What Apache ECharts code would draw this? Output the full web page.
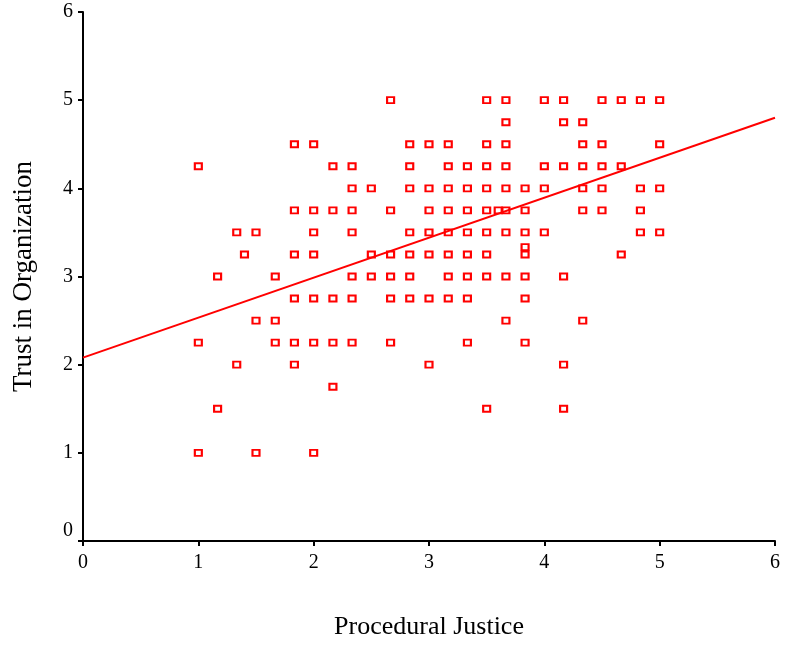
<!DOCTYPE html>
<html>
<head>
<meta charset="utf-8">
<script src="https://cdn.jsdelivr.net/npm/echarts@6/dist/echarts.min.js"></script>
<style>
  html, body { margin: 0; padding: 0; background: #fff; }
  #chart { width: 787px; height: 648px; }
</style>
</head>
<body>
<div id="chart"></div>
<script>
// scatter points grouped by y value (Trust in Organization), x = Procedural Justice
const rows = {
  '5':    [2.667, 3.5, 3.667, 4, 4.167, 4.5, 4.667, 4.833, 5],
  '4.75': [3.667, 4.167, 4.333],
  '4.5':  [1.833, 2, 2.833, 3, 3.167, 3.5, 3.667, 4.333, 4.5, 5],
  '4.25': [1, 2.167, 2.333, 2.833, 3.167, 3.333, 3.5, 3.667, 4, 4.167, 4.333, 4.5, 4.667],
  '4':    [2.333, 2.5, 2.833, 3, 3.167, 3.333, 3.5, 3.667, 3.833, 4, 4.333, 4.5, 4.833, 5],
  '3.75': [1.833, 2, 2.167, 2.333, 2.667, 3, 3.167, 3.333, 3.5, 3.6, 3.667, 3.833, 4.333, 4.5, 4.833],
  '3.5':  [1.333, 1.5, 2, 2.333, 2.833, 3, 3.167, 3.333, 3.5, 3.667, 3.833, 4, 4.833, 5],
  '3.333':[3.833],
  '3.25': [1.4, 1.833, 2, 2.5, 2.667, 2.833, 3, 3.167, 3.333, 3.5, 3.833, 4.667],
  '3':    [1.167, 1.667, 2.333, 2.5, 2.667, 2.833, 3.167, 3.333, 3.5, 3.667, 3.833, 4.167],
  '2.75': [1.833, 2, 2.167, 2.333, 2.667, 2.833, 3, 3.167, 3.333, 3.833],
  '2.5':  [1.5, 1.667, 3.667, 4.333],
  '2.25': [1, 1.667, 1.833, 2, 2.167, 2.333, 2.667, 3.333, 3.833],
  '2':    [1.333, 1.833, 3, 4.167],
  '1.75': [2.167],
  '1.5':  [1.167, 3.5, 4.167],
  '1':    [1, 1.5, 2]
};

// fitted regression line end points
const fitX = [0, 6];
const fitY = [2.08, 4.8];

const xTicks = [0, 1, 2, 3, 4, 5, 6];
const yTicks = [0, 1, 2, 3, 4, 5, 6];

const points = [];
Object.keys(rows).forEach(function (y) {
  rows[y].forEach(function (x) { points.push([x, Number(y)]); });
});

const font = 'Liberation Serif';
const chart = echarts.init(document.getElementById('chart'));

chart.setOption({
  animation: false,
  grid: { left: 83, right: 12, top: 12, bottom: 107 },
  xAxis: {
    type: 'value',
    min: xTicks[0], max: xTicks[xTicks.length - 1], interval: 1,
    name: 'Procedural Justice',
    nameLocation: 'middle',
    nameGap: 73,
    nameTextStyle: { fontFamily: font, fontSize: 26, color: '#000' },
    axisLine: { show: true, lineStyle: { color: '#000', width: 2 } },
    axisTick: { show: true, length: 5, lineStyle: { color: '#000', width: 2 } },
    axisLabel: { fontFamily: font, fontSize: 20, color: '#000', margin: 12 },
    splitLine: { show: false }
  },
  yAxis: {
    type: 'value',
    min: yTicks[0], max: yTicks[yTicks.length - 1], interval: 1,
    name: 'Trust in Organization',
    nameLocation: 'middle',
    nameGap: 46,
    nameTextStyle: { fontFamily: font, fontSize: 27, color: '#000' },
    axisLine: { show: true, lineStyle: { color: '#000', width: 2 } },
    axisTick: { show: true, length: 5, lineStyle: { color: '#000', width: 2 } },
    axisLabel: {
      fontFamily: font, fontSize: 20, color: '#000', margin: 10,
      // the zero label sits a little above its tick in the original
      formatter: function (v) { return v === 0 ? '{z|0}' : String(v); },
      rich: { z: { fontFamily: font, fontSize: 20, color: '#000', padding: [0, 0, 20, 0] } }
    },
    splitLine: { show: false }
  },
  series: [
    {
      type: 'scatter',
      data: points,
      symbol: 'rect',
      symbolSize: [7, 6],
      itemStyle: { color: '#fff', borderColor: '#ff0000', borderWidth: 2, opacity: 1 }
    },
    {
      type: 'line',
      data: fitX.map(function (x, i) { return [x, fitY[i]]; }),
      symbol: 'none',
      lineStyle: { color: '#ff0000', width: 2 },
      z: 3
    }
  ]
});
</script>
</body>
</html>
